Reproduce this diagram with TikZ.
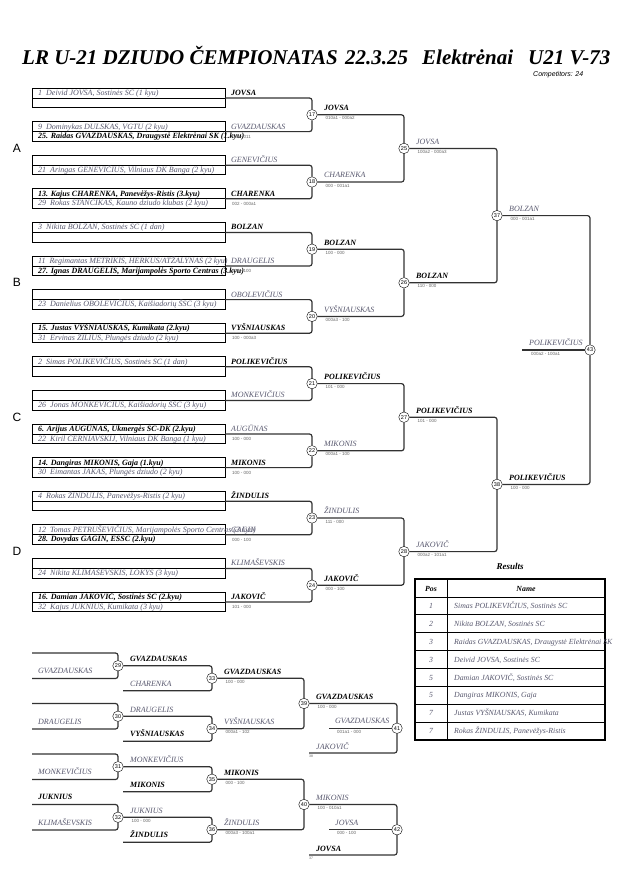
\documentclass[tikz,border=0pt]{standalone}
\usepackage{fontspec}
\setmainfont{Liberation Serif}
\setsansfont{Liberation Sans}

\definecolor{namegrey}{RGB}{88,88,110}
\definecolor{scoregrey}{RGB}{100,100,100}
\definecolor{wiregrey}{RGB}{50,50,50}

\tikzset{
  rowtxt/.style={anchor=base west, inner sep=0pt, text=namegrey,
    font=\fontsize{8}{8}\selectfont\itshape},
  rowbold/.style={rowtxt, text=black,
    font=\fontsize{8}{8}\selectfont\bfseries\itshape},
  win/.style={anchor=base west, inner sep=0pt,
    font=\fontsize{8}{8}\selectfont\bfseries\itshape},
  lose/.style={anchor=base west, inner sep=0pt, text=namegrey,
    font=\fontsize{8}{8}\selectfont\itshape},
  score/.style={anchor=base west, inner sep=0pt, text=scoregrey,
    font=\sffamily\fontsize{4.5}{5}\selectfont},
  tiny/.style={anchor=base west, inner sep=0pt, text=scoregrey,
    font=\sffamily\fontsize{3.5}{4}\selectfont},
  bout/.style={circle, draw, fill=white, inner sep=0pt, minimum size=10.5pt,
    font=\sffamily\fontsize{5.5}{6}\selectfont},
  wire/.style={draw=wiregrey, line width=1.2pt, rounded corners=2.5pt},
  pool/.style={inner sep=0pt, font=\sffamily\fontsize{12}{12}\selectfont},
  head/.style={anchor=base, inner sep=0pt,
    font=\fontsize{7.8}{8}\selectfont\bfseries\itshape},
  tabtxt/.style={anchor=base west, inner sep=0pt, text=namegrey,
    font=\fontsize{7.8}{8}\selectfont\itshape},
}

\begin{document}
\begin{tikzpicture}[x=1pt,y=-1pt]
  \useasboundingbox (0,0) rectangle (630,891);

  % Title
  \begin{scope}[every node/.style={anchor=base west, inner sep=0pt,
      font=\fontsize{21}{21}\selectfont\bfseries\itshape}]
    \node (t1) at (22,64) {LR U-21 DZIUDO ČEMPIONATAS};
    \node (t2) at (345,64) {22.3.25};
    \node (t3) at (422,64) {Elektrėnai};
    \node (t4) at (528,64) {U21 V-73};
  \end{scope}
  \node[anchor=base west, inner sep=0pt, font=\sffamily\itshape\fontsize{7}{7}\selectfont]
    (cnt) at (533,76) {Competitors: 24};

  % Pools
  \node[pool] (pA) at (17,148.4) {A};
  \node[pool] (pB) at (17,282.8) {B};
  \node[pool] (pC) at (17,417.2) {C};
  \node[pool] (pD) at (17,551.6) {D};

  % Entry boxes, one pair each
  \foreach \k in {0,...,15}{
    \pgfmathsetmacro\m{98+33.6*\k}
    \draw[line width=0.8pt] (32,\m-10) rectangle (225,\m+9.5);
    \draw[line width=0.8pt] (32,\m) -- (225,\m);
    \coordinate (p\k) at (225,\m);
    \coordinate (ta\k) at (38,\m-2.6);
    \coordinate (tb\k) at (38,\m+7);
  }

  % Entries
  \node[rowtxt]  (c1)  at (ta0)  {1\ \ Deivid JOVSA, Sostinės SC (1 kyu)};
  \node[rowtxt]  (c9)  at (ta1)  {9\ \ Dominykas DULSKAS, VGTU (2 kyu)};
  \node[rowbold] (c25) at (tb1)  {25. Raidas GVAZDAUSKAS, Draugystė Elektrėnai SK (1.kyu)};
  \node[rowtxt]  (c21) at (tb2)  {21\ \ Aringas GENEVIČIUS, Vilniaus DK Banga (2 kyu)};
  \node[rowbold] (c13) at (ta3)  {13. Kajus CHARENKA, Panevėžys-Ristis (3.kyu)};
  \node[rowtxt]  (c29) at (tb3)  {29\ \ Rokas STANCIKAS, Kauno dziudo klubas (2 kyu)};
  \node[rowtxt]  (c3)  at (ta4)  {3\ \ Nikita BOLZAN, Sostinės SC (1 dan)};
  \node[rowtxt]  (c11) at (ta5)  {11\ \ Regimantas METRIKIS, HERKUS/ATŽALYNAS (2 kyu)};
  \node[rowbold] (c27) at (tb5)  {27. Ignas DRAUGELIS, Marijampolės Sporto Centras (3.kyu)};
  \node[rowtxt]  (c23) at (tb6)  {23\ \ Danielius OBOLEVIČIUS, Kaišiadorių ŠSC (3 kyu)};
  \node[rowbold] (c15) at (ta7)  {15. Justas VYŠNIAUSKAS, Kumikata (2.kyu)};
  \node[rowtxt]  (c31) at (tb7)  {31\ \ Ervinas ŽILIUS, Plungės dziudo (2 kyu)};
  \node[rowtxt]  (c2)  at (ta8)  {2\ \ Simas POLIKEVIČIUS, Sostinės SC (1 dan)};
  \node[rowtxt]  (c26) at (tb9)  {26\ \ Jonas MONKEVIČIUS, Kaišiadorių ŠSC (3 kyu)};
  \node[rowbold] (c6)  at (ta10) {6. Arijus AUGŪNAS, Ukmergės SC-DK (2.kyu)};
  \node[rowtxt]  (c22) at (tb10) {22\ \ Kiril ČERNIAVSKIJ, Vilniaus DK Banga (1 kyu)};
  \node[rowbold] (c14) at (ta11) {14. Dangiras MIKONIS, Gaja (1.kyu)};
  \node[rowtxt]  (c30) at (tb11) {30\ \ Eimantas JAKAS, Plungės dziudo (2 kyu)};
  \node[rowtxt]  (c4)  at (ta12) {4\ \ Rokas ŽINDULIS, Panevėžys-Ristis (2 kyu)};
  \node[rowtxt]  (c12) at (ta13) {12\ \ Tomas PETRUŠEVIČIUS, Marijampolės Sporto Centras (3 kyu)};
  \node[rowbold] (c28) at (tb13) {28. Dovydas GAGIN, ESSC (2.kyu)};
  \node[rowtxt]  (c24) at (tb14) {24\ \ Nikita KLIMAŠEVSKIS, LOKYS (3 kyu)};
  \node[rowbold] (c16) at (ta15) {16. Damian JAKOVIČ, Sostinės SC (2.kyu)};
  \node[rowtxt]  (c32) at (tb15) {32\ \ Kajus JUKNIUS, Kumikata (3 kyu)};

  % Pair winners
  \foreach \k/\s/\w/\sc in {0/win/JOVSA/{}, 1/lose/GVAZDAUSKAS/{000 - 011},
      2/lose/GENEVIČIUS/{}, 3/win/CHARENKA/{002 - 000a1}, 4/win/BOLZAN/{},
      5/lose/DRAUGELIS/{000 - 100}, 6/lose/OBOLEVIČIUS/{}, 7/win/VYŠNIAUSKAS/{100 - 000a3},
      8/win/POLIKEVIČIUS/{}, 9/lose/MONKEVIČIUS/{}, 10/lose/AUGŪNAS/{100 - 000},
      11/win/MIKONIS/{100 - 000}, 12/win/ŽINDULIS/{}, 13/lose/GAGIN/{000 - 100},
      14/lose/KLIMAŠEVSKIS/{}, 15/win/JAKOVIČ/{101 - 000}}{
    \node[\s] (q\k) at ([shift={(6,-2.6)}]p\k) {\w};
    \node[score] (r\k) at ([shift={(7,6.5)}]p\k) {\sc};
  }

  % Main bracket
  \foreach \j in {0,...,7}{
    \pgfmathtruncatemacro\n{17+\j}
    \pgfmathtruncatemacro\a{2*\j}
    \pgfmathtruncatemacro\b{2*\j+1}
    \node[bout] (m\n) at (312,{114.8+67.2*\j}) {\n};
    \draw[wire] (p\a) -| (m\n.north);
    \draw[wire] (p\b) -| (m\n.south);
  }
  \foreach \j in {0,...,3}{
    \pgfmathtruncatemacro\n{25+\j}
    \pgfmathtruncatemacro\a{17+2*\j}
    \pgfmathtruncatemacro\b{18+2*\j}
    \node[bout] (m\n) at (404,{148.4+134.4*\j}) {\n};
    \draw[wire] (m\a.east) -| (m\n.north);
    \draw[wire] (m\b.east) -| (m\n.south);
  }
  \node[bout] (m37) at (497,215.6) {37};
  \node[bout] (m38) at (497,484.4) {38};
  \draw[wire] (m25.east) -| (m37.north);
  \draw[wire] (m26.east) -| (m37.south);
  \draw[wire] (m27.east) -| (m38.north);
  \draw[wire] (m28.east) -| (m38.south);

  % Final
  \node[bout] (m43) at (590,350) {43};
  \coordinate (f43) at (522,350);
  \draw[wire] (m37.east) -| (m43.north);
  \draw[wire] (m38.east) -| (m43.south);
  \draw[wire] (f43) -- (m43.west);
  \node[lose] (l43) at ([shift={(7,-4.2)}]f43) {POLIKEVIČIUS};
  \node[score] (s43) at ([shift={(9,5)}]f43) {000a2 - 100a1};

  % Repechage
  \foreach \j/\n in {0/29,1/30,2/31,3/32}{
    \pgfmathsetmacro\t{653+50.5*\j}
    \coordinate (ra\n) at (32,\t);
    \coordinate (rb\n) at (32,\t+25.5);
    \node[bout] (m\n) at (118,\t+12.75) {\n};
    \draw[wire] (ra\n) -| (m\n.north);
    \draw[wire] (rb\n) -| (m\n.south);
  }
  \foreach \j/\n/\f in {0/33/29,1/34/30,2/35/31,3/36/32}{
    \pgfmathsetmacro\t{678.25+50.5*\j}
    \node[bout] (m\n) at (212,\t) {\n};
    \coordinate (rc\n) at (123,\t+12.5);
    \draw[wire] (m\f.east) -| (m\n.north);
    \draw[wire] (rc\n) -| (m\n.south);
  }
  \node[bout] (m39) at (304,703.5) {39};
  \node[bout] (m40) at (304,804.5) {40};
  \draw[wire] (m33.east) -| (m39.north);
  \draw[wire] (m34.east) -| (m39.south);
  \draw[wire] (m35.east) -| (m40.north);
  \draw[wire] (m36.east) -| (m40.south);

  % Bronze bouts
  \node[bout] (m41) at (397,728.25) {41};
  \node[bout] (m42) at (397,829.75) {42};
  \coordinate (bm41) at (329,728.25);
  \coordinate (bb41) at (309,753);
  \coordinate (bm42) at (329,829.75);
  \coordinate (bb42) at (309,855);
  \draw[wire] (m39.east) -| (m41.north);
  \draw[wire] (bm41) -- (m41.west);
  \draw[wire] (bb41) -| (m41.south);
  \draw[wire] (m40.east) -| (m42.north);
  \draw[wire] (bm42) -- (m42.west);
  \draw[wire] (bb42) -| (m42.south);

  % Bout results
  \foreach \n/\s/\w/\sc in {17/win/JOVSA/{010a1 - 000a2}, 18/lose/CHARENKA/{000 - 001a1},
      19/win/BOLZAN/{100 - 000}, 20/lose/VYŠNIAUSKAS/{000a3 - 100},
      21/win/POLIKEVIČIUS/{101 - 000}, 22/lose/MIKONIS/{000a1 - 100},
      23/lose/ŽINDULIS/{111 - 000}, 24/win/JAKOVIČ/{000 - 100},
      25/lose/JOVSA/{100a2 - 000a3}, 26/win/BOLZAN/{110 - 000},
      27/win/POLIKEVIČIUS/{101 - 000}, 28/lose/JAKOVIČ/{000a2 - 101a1},
      37/lose/BOLZAN/{000 - 001a1}, 38/win/POLIKEVIČIUS/{100 - 000},
      29/win/GVAZDAUSKAS/{}, 30/lose/DRAUGELIS/{}, 31/lose/MONKEVIČIUS/{},
      32/lose/JUKNIUS/{100 - 000}, 33/win/GVAZDAUSKAS/{100 - 000},
      34/lose/VYŠNIAUSKAS/{000a1 - 102}, 35/win/MIKONIS/{000 - 100},
      36/lose/ŽINDULIS/{000a3 - 100a1}, 39/win/GVAZDAUSKAS/{100 - 000},
      40/lose/MIKONIS/{100 - 010a1}}{
    \node[\s] (l\n) at ([shift={(6.5,-4.2)}]m\n.east) {\w};
    \node[score] (s\n) at ([shift={(8,5)}]m\n.east) {\sc};
  }

  % Repechage entries
  \node[lose] (e29) at ([shift={(6,-5)}]rb29) {GVAZDAUSKAS};
  \node[lose] (e30) at ([shift={(6,-5)}]rb30) {DRAUGELIS};
  \node[lose] (e31) at ([shift={(6,-5)}]rb31) {MONKEVIČIUS};
  \node[win]  (e32a) at ([shift={(6,-5)}]ra32) {JUKNIUS};
  \node[lose] (e32) at ([shift={(6,-5)}]rb32) {KLIMAŠEVSKIS};
  \node[lose] (e33) at ([shift={(7,-4.5)}]rc33) {CHARENKA};
  \node[win]  (e34) at ([shift={(7,-4.5)}]rc34) {VYŠNIAUSKAS};
  \node[win]  (e35) at ([shift={(7,-4.5)}]rc35) {MIKONIS};
  \node[win]  (e36) at ([shift={(7,-4.5)}]rc36) {ŽINDULIS};

  % Bronze entries
  \node[lose]  (l41) at ([shift={(6,-4.5)}]bm41) {GVAZDAUSKAS};
  \node[score] (s41) at ([shift={(8,5)}]bm41) {001a1 - 000};
  \node[lose]  (k41) at ([shift={(7,-4)}]bb41) {JAKOVIČ};
  \node[tiny]  (n41) at ([shift={(0,4.5)}]bb41) {38};
  \node[lose]  (l42) at ([shift={(6,-4.5)}]bm42) {JOVSA};
  \node[score] (s42) at ([shift={(8,5)}]bm42) {000 - 100};
  \node[win]   (k42) at ([shift={(7,-4)}]bb42) {JOVSA};
  \node[tiny]  (n42) at ([shift={(0,4.5)}]bb42) {37};

  % Results table
  \node[anchor=base, inner sep=0pt, font=\fontsize{9}{9}\selectfont\bfseries\itshape]
    (res) at (510,569) {Results};
  \foreach \i in {1,...,8}
    \draw[line width=0.8pt] (415,{579+17.9*\i}) -- (605,{579+17.9*\i});
  \draw[line width=0.8pt] (447,579) -- (447,740);
  \draw[line width=1.6pt] (415,579) rectangle (605,740);
  \node[head] (hpos) at (431,591) {Pos};
  \node[head] (hname) at (526,591) {Name};
  \foreach \i/\p/\nm in {1/1/{Simas POLIKEVIČIUS, Sostinės SC},
      2/2/{Nikita BOLZAN, Sostinės SC},
      3/3/{Raidas GVAZDAUSKAS, Draugystė Elektrėnai SK},
      4/3/{Deivid JOVSA, Sostinės SC},
      5/5/{Damian JAKOVIČ, Sostinės SC},
      6/5/{Dangiras MIKONIS, Gaja},
      7/7/{Justas VYŠNIAUSKAS, Kumikata},
      8/7/{Rokas ŽINDULIS, Panevėžys-Ristis}}{
    \node[tabtxt, anchor=base] (pos\i) at (431,{579+17.9*\i+11.5}) {\p};
    \node[tabtxt] (nm\i) at (454,{579+17.9*\i+11.5}) {\nm};
  }
\end{tikzpicture}
\end{document}
